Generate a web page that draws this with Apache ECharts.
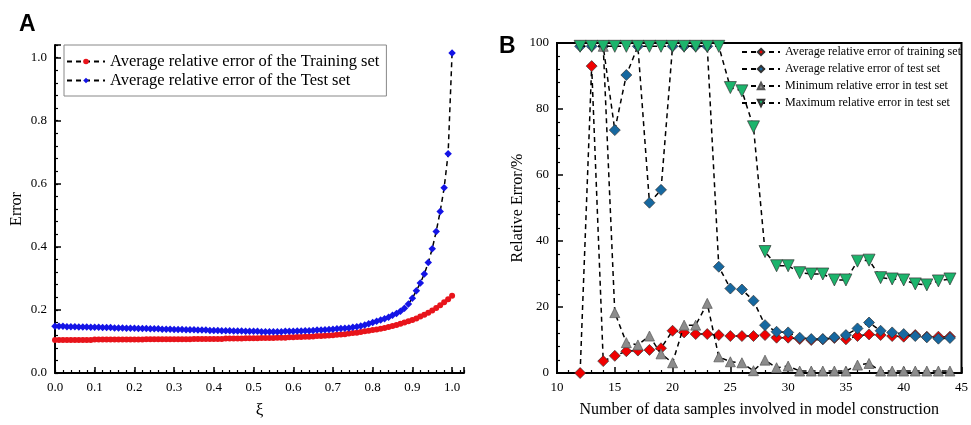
<!DOCTYPE html>
<html><head><meta charset="utf-8">
<script src="https://cdn.jsdelivr.net/npm/echarts@6/dist/echarts.min.js"></script>
<style>html,body{margin:0;padding:0;background:#fff}#c{width:971px;height:425px}</style>
</head><body><div id="c"></div>
<script>
// ---- Panel A data ----
const xi = [0.00,0.01,0.02,0.03,0.04,0.05,0.06,0.07,0.08,0.09,
0.10,0.11,0.12,0.13,0.14,0.15,0.16,0.17,0.18,0.19,
0.20,0.21,0.22,0.23,0.24,0.25,0.26,0.27,0.28,0.29,
0.30,0.31,0.32,0.33,0.34,0.35,0.36,0.37,0.38,0.39,
0.40,0.41,0.42,0.43,0.44,0.45,0.46,0.47,0.48,0.49,
0.50,0.51,0.52,0.53,0.54,0.55,0.56,0.57,0.58,0.59,
0.60,0.61,0.62,0.63,0.64,0.65,0.66,0.67,0.68,0.69,
0.70,0.71,0.72,0.73,0.74,0.75,0.76,0.77,0.78,0.79,
0.80,0.81,0.82,0.83,0.84,0.85,0.86,0.87,0.88,0.89,
0.90,0.91,0.92,0.93,0.94,0.95,0.96,0.97,0.98,0.99,1.00];
const trainErr = [0.105,0.105,0.105,0.105,0.105,0.105,0.105,0.105,0.105,0.105,
0.106,0.106,0.106,0.106,0.106,0.106,0.106,0.106,0.106,0.106,
0.106,0.106,0.106,0.107,0.107,0.107,0.107,0.107,0.107,0.107,
0.107,0.107,0.107,0.107,0.107,0.108,0.108,0.108,0.108,0.108,
0.108,0.108,0.108,0.109,0.109,0.109,0.109,0.109,0.110,0.110,
0.110,0.110,0.111,0.111,0.111,0.111,0.112,0.112,0.112,0.113,
0.113,0.114,0.114,0.115,0.115,0.116,0.117,0.117,0.118,0.119,
0.120,0.121,0.122,0.123,0.125,0.127,0.128,0.130,0.132,0.134,
0.136,0.138,0.140,0.143,0.146,0.149,0.152,0.156,0.160,0.164,
0.168,0.173,0.179,0.185,0.191,0.198,0.206,0.215,0.224,0.234,0.245];
const testErr = [0.148,0.148,0.148,0.147,0.147,0.147,0.146,0.146,0.146,0.145,
0.145,0.145,0.144,0.144,0.144,0.143,0.143,0.143,0.142,0.142,
0.142,0.141,0.141,0.141,0.140,0.140,0.140,0.139,0.139,0.139,
0.138,0.138,0.138,0.137,0.137,0.137,0.136,0.136,0.136,0.135,
0.135,0.135,0.134,0.134,0.134,0.133,0.133,0.133,0.132,0.132,
0.132,0.132,0.131,0.131,0.131,0.131,0.131,0.131,0.132,0.132,
0.132,0.133,0.133,0.134,0.134,0.135,0.136,0.136,0.137,0.138,
0.139,0.140,0.141,0.142,0.143,0.145,0.147,0.149,0.152,0.156,
0.160,0.164,0.168,0.172,0.177,0.183,0.189,0.196,0.205,0.219,
0.237,0.261,0.285,0.314,0.350,0.394,0.449,0.512,0.587,0.695,1.015];

// ---- Panel B data ----
const samples = [12,13,14,15,16,17,18,19,20,21,22,23,24,25,26,27,28,29,30,31,32,33,34,35,36,37,38,39,40,41,42,43,44];
const avgTrain = [0,93,3.6,5.2,6.6,6.8,7.0,7.5,12.8,12.3,11.8,11.8,11.5,11.2,11.2,11.2,11.5,10.7,10.7,10.3,10.0,10.2,10.6,10.2,11.2,11.7,11.5,11.2,11.0,11.5,11.0,11.0,11.0];
const avgTest = [99,99,99,73.6,90.3,99,51.6,55.5,99,99,99,99,32.2,25.6,25.3,21.9,14.5,12.5,12.3,10.7,10.3,10.3,10.8,11.5,13.5,15.3,12.8,12.3,11.8,11.2,10.8,10.4,10.6];
const minTest = [null,null,99,18.3,9.2,8.5,11.2,5.8,3.1,14.5,14.5,21.1,4.9,3.4,3.1,0.7,3.9,1.6,2.1,0.6,0.6,0.6,0.6,0.6,2.4,2.9,0.6,0.6,0.6,0.6,0.6,0.6,0.6];
const maxTest = [99,99,99,99,99,99,99,99,99,99,99,99,99,86.5,85.5,74.6,36.8,32.5,32.5,30.4,30.0,30.0,28.2,28.2,33.9,34.2,28.9,28.5,28.2,27.0,26.7,27.9,28.5];

const legendA = ['Average relative error of the Training set','Average relative error of the Test set'];
const legendB = ['Average relative error of training set','Average relative error of test set','Minimum relative error in test set','Maximum relative error in test set'];

const SERIF = "'Liberation Serif','Times New Roman',serif";
const pair = (xs, ys) => xs.map((x, i) => [x, ys[i]]);

const chart = echarts.init(document.getElementById('c'), null, {renderer: 'canvas'});
const lblStyle = {color: '#000', fontFamily: SERIF, fontSize: 13};
const dashLine = {color: '#000', width: 1.5, type: [5, 4]};

chart.setOption({
  animation: false,
  backgroundColor: '#fff',
  graphic: [
    {type: 'text', left: 19, top: 13, style: {text: 'A', font: "bold 23px 'Liberation Sans', Arial, sans-serif", fill: '#000'}},
    {type: 'text', left: 499, top: 35, style: {text: 'B', font: "bold 23px 'Liberation Sans', Arial, sans-serif", fill: '#000'}}
  ],
  grid: [
    {left: 55, top: 45, width: 409, height: 328},
    {left: 557, top: 43, width: 408, height: 330, show: true, borderColor: '#000', borderWidth: 2, backgroundColor: 'transparent'}
  ],
  legend: [
    {data: legendA, orient: 'vertical', left: 64, top: 45, itemWidth: 38, itemHeight: 7, itemGap: 2,
     padding: [8, 7, 7, 2], borderColor: '#888', borderWidth: 1,
     textStyle: {fontFamily: SERIF, fontSize: 16.5, color: '#000', padding: [0, 0, 0, 0]}},
    {data: legendB, orient: 'vertical', left: 739, top: 44, itemWidth: 38, itemHeight: 8, itemGap: 5,
     padding: [2, 2, 2, 2],
     textStyle: {fontFamily: SERIF, fontSize: 12.1, color: '#000'}}
  ],
  xAxis: [
    {gridIndex: 0, type: 'value', min: 0, max: 1.03, interval: 0.1, position: 'bottom',
     name: 'ξ', nameLocation: 'middle', nameGap: 29, nameTextStyle: {fontFamily: SERIF, fontSize: 17, color: '#000'},
     axisLine: {onZero: false, lineStyle: {color: '#000', width: 2}},
     axisTick: {inside: true, length: 6, lineStyle: {color: '#000', width: 1.5}},
     axisLabel: Object.assign({formatter: v => (Math.abs(v * 10 - Math.round(v * 10)) < 1e-6 ? v.toFixed(1) : ''), margin: 8}, lblStyle),
     splitLine: {show: false}},
    {gridIndex: 0, type: 'value', min: 0, max: 1.03, interval: 0.02, position: 'bottom', offset: 0,
     axisLine: {show: false}, axisLabel: {show: false}, splitLine: {show: false},
     axisTick: {inside: true, length: 3, lineStyle: {color: '#000', width: 1.2}}},
    {gridIndex: 1, type: 'value', min: 10, max: 45, interval: 5,
     name: 'Number of data samples involved in model construction', nameLocation: 'middle', nameGap: 29,
     nameTextStyle: {fontFamily: SERIF, fontSize: 16, color: '#000'},
     axisLine: {onZero: false, lineStyle: {color: '#000', width: 2}},
     axisTick: {inside: true, length: 6, lineStyle: {color: '#000', width: 1.5}},
     minorTick: {show: true, splitNumber: 5, length: 3, lineStyle: {color: '#000', width: 1.2}},
     axisLabel: Object.assign({margin: 8}, lblStyle),
     splitLine: {show: false}}
  ],
  yAxis: [
    {gridIndex: 0, type: 'value', min: 0, max: 1.04, interval: 0.2, position: 'left',
     name: 'Error', nameLocation: 'middle', nameGap: 30, nameTextStyle: {fontFamily: SERIF, fontSize: 16, color: '#000'},
     axisLine: {onZero: false, lineStyle: {color: '#000', width: 2}},
     axisTick: {inside: true, length: 6, lineStyle: {color: '#000', width: 1.5}},
     axisLabel: Object.assign({formatter: v => (Math.abs(v * 5 - Math.round(v * 5)) < 1e-6 ? v.toFixed(1) : ''), margin: 8}, lblStyle),
     splitLine: {show: false}},
    {gridIndex: 0, type: 'value', min: 0, max: 1.04, interval: 0.04, position: 'left', offset: 0,
     axisLine: {show: false}, axisLabel: {show: false}, splitLine: {show: false},
     axisTick: {inside: true, length: 3, lineStyle: {color: '#000', width: 1.2}}},
    {gridIndex: 1, type: 'value', min: 0, max: 100, interval: 20,
     name: 'Relative Error/%', nameLocation: 'middle', nameGap: 31, nameTextStyle: {fontFamily: SERIF, fontSize: 16, color: '#000'},
     axisLine: {onZero: false, lineStyle: {color: '#000', width: 2}},
     axisTick: {inside: true, length: 6, lineStyle: {color: '#000', width: 1.5}},
     minorTick: {show: true, splitNumber: 5, length: 3, lineStyle: {color: '#000', width: 1.2}},
     axisLabel: Object.assign({margin: 8}, lblStyle),
     splitLine: {show: false}}
  ],
  series: [
    {name: legendA[0], type: 'line', xAxisIndex: 0, yAxisIndex: 0, data: pair(xi, trainErr),
     symbol: 'circle', symbolSize: 6, itemStyle: {color: '#e8141b'}, lineStyle: dashLine, z: 3},
    {name: legendA[1], type: 'line', xAxisIndex: 0, yAxisIndex: 0, data: pair(xi, testErr),
     symbol: 'diamond', symbolSize: 7.5, itemStyle: {color: '#1414e6'}, lineStyle: dashLine, z: 3},
    {name: legendB[0], type: 'line', xAxisIndex: 2, yAxisIndex: 2, data: pair(samples, avgTrain),
     symbol: 'diamond', symbolSize: 11, itemStyle: {color: '#f00000', borderColor: '#333', borderWidth: 0.7},
     lineStyle: dashLine, clip: false, z: 3},
    {name: legendB[1], type: 'line', xAxisIndex: 2, yAxisIndex: 2, data: pair(samples, avgTest),
     symbol: 'diamond', symbolSize: 11, itemStyle: {color: '#1668a0', borderColor: '#333', borderWidth: 0.7},
     lineStyle: dashLine, clip: false, z: 4},
    {name: legendB[2], type: 'line', xAxisIndex: 2, yAxisIndex: 2, data: pair(samples, minTest),
     symbol: 'triangle', symbolSize: 10, itemStyle: {color: '#8c8c8c', borderColor: '#555', borderWidth: 0.7},
     lineStyle: dashLine, clip: false, connectNulls: false, z: 5},
    {name: legendB[3], type: 'line', xAxisIndex: 2, yAxisIndex: 2, data: pair(samples, maxTest),
     symbol: 'triangle', symbolRotate: 180, symbolSize: 12, itemStyle: {color: '#1cb46c', borderColor: '#333', borderWidth: 0.7},
     lineStyle: dashLine, clip: false, z: 6}
  ]
});
</script>
</body></html>
